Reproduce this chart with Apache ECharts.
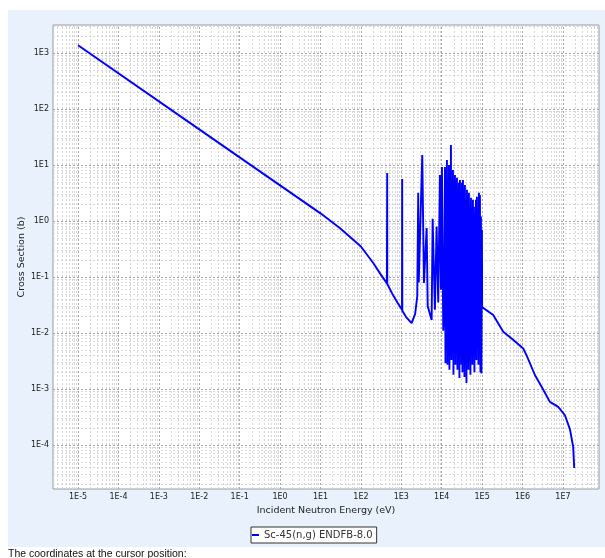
<!DOCTYPE html>
<html lang="en">

<head>
    <meta charset="UTF-8">
    <title>Sc-45(n,g) cross section</title>
    <script src="https://cdn.jsdelivr.net/npm/echarts@6.0.0/dist/echarts.min.js"></script>
    <style>
        * {
            margin: 0;
            padding: 0;
        }

        body {
            background: #fff;
        }

        #chart {
            width: 605px;
            height: 558px;
        }
    </style>
</head>

<body>
    <div id="chart"></div>

    <script>
        // thermal / 1/v part and first isolated resonances (eV, barns)
        const lowE = [1e-5, 1e-2, 1, 10, 30, 100, 200, 300, 440, 444, 447, 450, 600, 800, 1040, 1050, 1060, 1300, 1800, 2200, 2480];
        const lowXs = [1370, 43.3, 4.33, 1.37, 0.75, 0.35, 0.18, 0.115, 0.077, 0.076, 7.2, 0.075, 0.05, 0.035, 0.026, 5.6, 0.025, 0.0195, 0.015, 0.022, 0.045];

        // resolved resonance cluster 2.5 - 11 keV
        const resE = [2620, 2700, 3300, 3630, 4240, 4500, 5630, 5960, 6790, 7480, 8200, 9040, 9570, 10120, 10910, 11480];
        const resXs = [3.2, 0.08, 15, 0.078, 0.75, 0.03, 0.017, 1.1, 0.026, 0.8, 0.035, 6.6, 0.059, 9.2, 0.011, 0.03];

        // dense resonance forest 12 - 100 keV (peak, valley, peak, ...)
        const forestE = [
            12020, 12370, 12700, 13090, 13460, 13860, 14250, 14670, 15100, 15530,
            15960, 16440, 16900, 17400, 17900, 18420, 18970, 19500, 20050, 20640,
            21230, 21860, 22490, 23130, 23820, 24490, 25180, 25930, 26670, 27450,
            28250, 29060, 29920, 30760, 31620, 32570, 33500, 34470, 35480, 36490,
            37500, 38640, 39720, 40900, 42070, 43300, 44570, 45840, 47100, 48530,
            49890, 51370, 52840, 54380, 55970, 57570, 59160, 60950, 62660, 64520,
            66370, 68300, 70310, 72300, 74300, 76540, 78700, 81030, 83370, 85780,
            88100, 90800, 93330, 96120, 98850
        ];
        const forestXs = [
            9.2, 0.0029, 8.1, 0.0075, 12.3, 0.0027, 5.4, 0.005, 10, 0.0022,
            6.6, 0.0041, 22.8, 0.0033, 4.4, 0.0061, 8.1, 0.0018, 3.6, 0.005,
            6.6, 0.0027, 5.4, 0.0075, 5.9, 0.0022, 3.6, 0.0041, 4.8, 0.00157,
            5.4, 0.0061, 2.9, 0.0027, 4.8, 0.002, 5.4, 0.005, 3.6, 0.00164,
            4.4, 0.0033, 2.4, 0.00128, 3.6, 0.0041, 2.9, 0.0022, 3.2, 0.0061,
            1.9, 0.0018, 2.6, 0.0075, 1.6, 0.0027, 2.4, 0.0041, 1.8, 0.002,
            1.3, 0.005, 2.4, 0.0033, 2.7, 0.0092, 1.6, 0.0027, 3.2, 0.005,
            2.9, 0.002, 1.2, 0.0019, 0.69
        ];

        // fast region 100 keV - 20 MeV
        const fastE = [1.0e5, 1.88e5, 3.33e5, 5.37e5, 1.04e6, 1.26e6, 2.02e6, 2.97e6, 4.75e6, 7.64e6, 1.12e7, 1.49e7, 1.79e7, 1.9e7];
        const fastXs = [0.029, 0.021, 0.0105, 0.008, 0.0053, 0.004, 0.00178, 0.0011, 5.9e-4, 4.8e-4, 3.4e-4, 1.9e-4, 9.3e-5, 3.9e-5];

        // axis extents and decade tick values
        const xRange = [2.4e-6, 7.8e7];
        const yRange = [1.64e-5, 3160];
        const xTicks = [1e-5, 1e-4, 1e-3, 1e-2, 1e-1, 1, 10, 100, 1e3, 1e4, 1e5, 1e6, 1e7];
        const yTicks = [1e-4, 1e-3, 1e-2, 1e-1, 1, 10, 100, 1e3];
        const minorSteps = [2, 3, 4, 5, 6, 7, 8, 9];

        const seriesName = 'Sc-45(n,g) ENDFB-8.0';

        const allE = lowE.concat(resE, forestE, fastE);
        const allXs = lowXs.concat(resXs, forestXs, fastXs);
        const points = allE.map((e, i) => [e, allXs[i]]);

        // log grid lines: decades plus 2..9 within each decade
        function gridLines(range, key, steps) {
            const out = [];
            const d0 = Math.floor(Math.log10(range[0]));
            const d1 = Math.ceil(Math.log10(range[1]));
            for (let d = d0; d <= d1; d++) {
                steps.forEach(m => {
                    const v = m * Math.pow(10, d);
                    if (v > range[0] && v < range[1]) out.push({ [key]: v });
                });
            }
            return out;
        }

        function powLabel(v) {
            const p = Math.log10(v);
            const r = Math.round(p);
            if (Math.abs(p - r) > 1e-6) return '';
            return '1E' + r;
        }

        const font = 'DejaVu Sans';

        const chart = echarts.init(document.getElementById('chart'));

        function axisOpt(range, ticks, name, gap) {
            return {
                type: 'log',
                logBase: 10,
                min: range[0],
                max: range[1],
                name: name,
                nameLocation: 'middle',
                nameGap: gap,
                nameMoveOverlap: false,
                nameTextStyle: { fontFamily: font, fontSize: 9.5, color: '#222' },
                axisLine: { show: false },
                axisTick: { show: false, customValues: ticks },
                axisLabel: {
                    customValues: ticks,
                    formatter: powLabel,
                    fontFamily: font,
                    fontSize: 8,
                    color: '#222',
                    margin: 4
                },
                splitLine: { show: false }
            };
        }

        function gridSeries(name, z, color, steps) {
            return {
                name: name,
                type: 'line',
                data: [],
                z: z,
                silent: true,
                markLine: {
                    silent: true,
                    z: z,
                    precision: 20,
                    symbol: 'none',
                    label: { show: false },
                    lineStyle: { color: color, type: [2, 2], width: 1 },
                    data: gridLines(xRange, 'xAxis', steps).concat(gridLines(yRange, 'yAxis', steps))
                }
            };
        }

        chart.setOption({
            animation: false,
            backgroundColor: '#fff',
            graphic: [{
                type: 'rect',
                z: -10,
                shape: { x: 8, y: 10, width: 597, height: 537 },
                style: { fill: '#e8f1fc' }
            }, {
                type: 'text',
                left: 8,
                top: 549,
                style: {
                    text: 'The coordinates at the cursor position:',
                    font: '10.5px "Liberation Sans"',
                    fill: '#111'
                }
            }],
            grid: {
                left: 53,
                top: 25,
                right: 6,
                bottom: 69,
                show: true,
                backgroundColor: '#fff',
                borderColor: '#9a9a9a',
                borderWidth: 1,
                outerBoundsMode: 'none'
            },
            legend: {
                data: [seriesName],
                left: 251,
                top: 527,
                padding: [3, 4, 3, 1],
                itemWidth: 7,
                itemHeight: 2,
                icon: 'rect',
                borderColor: '#333',
                borderWidth: 1,
                borderRadius: 0,
                backgroundColor: '#fff',
                textStyle: { fontFamily: font, fontSize: 10, color: '#333' }
            },
            xAxis: axisOpt(xRange, xTicks, 'Incident Neutron Energy (eV)', 17),
            yAxis: axisOpt(yRange, yTicks, 'Cross Section (b)', 26),
            series: [
                gridSeries('minor-grid', 1, '#d6d6d6', minorSteps),
                gridSeries('major-grid', 2, '#a8a8a8', [1]),
                {
                    name: seriesName,
                    type: 'line',
                    data: points,
                    z: 10,
                    showSymbol: false,
                    symbol: 'none',
                    sampling: null,
                    lineStyle: { color: '#0000ff', width: 1.9 },
                    itemStyle: { color: '#0000ff' }
                }
            ]
        });
    </script>
</body>

</html>
